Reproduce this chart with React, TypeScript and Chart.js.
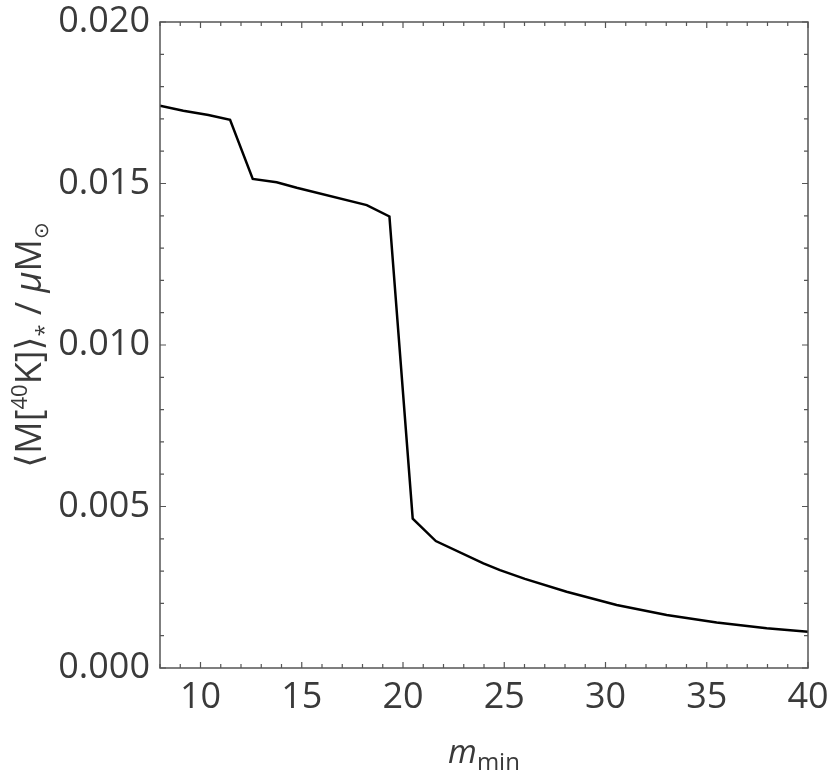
import React, { useEffect, useRef } from "react";
import { Chart, registerables } from "chart.js";

Chart.register(...registerables);

// m_min values (x)
const mMin = [8.0, 9.15, 10.39, 11.46, 12.58, 13.76, 14.75, 18.21, 19.33, 20.48, 21.62, 23.97, 24.79, 26.02, 28.08, 30.55, 33.02, 35.49, 37.96, 40.0];
// <M[40K]>_* / micro solar masses
const massK40 = [0.01741, 0.01725, 0.01712, 0.01697, 0.01514, 0.01504, 0.01487, 0.01433, 0.01398, 0.00462, 0.00393, 0.00324, 0.00303, 0.00276, 0.00236, 0.00195, 0.00164, 0.00141, 0.00123, 0.00112];

const xTickLabels = [10, 15, 20, 25, 30, 35, 40];
const yTickLabels = [0, 0.005, 0.01, 0.015, 0.02];
const xMinorTicks = Array.from({ length: 33 }, (_, i) => 8 + i);
const yMinorTicks = Array.from({ length: 21 }, (_, i) => i * 0.001);

const FONT = "'Open Sans', 'DejaVu Sans', sans-serif";
const TEXT = "#3a3a3a";
const FRAME = "#555555";

type Seg = { t: string; size: number; dy: number; italic?: boolean };

function drawSegs(ctx: CanvasRenderingContext2D, segs: Seg[], cx: number) {
  let total = 0;
  const widths = segs.map((s) => {
    ctx.font = `${s.italic ? "italic " : ""}${s.size}px ${FONT}`;
    const w = ctx.measureText(s.t).width;
    total += w;
    return w;
  });
  let x = cx - total / 2;
  segs.forEach((s, i) => {
    ctx.font = `${s.italic ? "italic " : ""}${s.size}px ${FONT}`;
    ctx.fillText(s.t, x, s.dy);
    x += widths[i];
  });
}

const framePlugin = {
  id: "framePlugin",
  afterDraw(chart: any) {
    const { ctx, chartArea: a, scales } = chart;
    const xs = scales.x;
    const ys = scales.y;
    ctx.save();
    ctx.strokeStyle = FRAME;
    ctx.lineWidth = 1.5;
    ctx.strokeRect(a.left, a.top, a.right - a.left, a.bottom - a.top);
    ctx.lineWidth = 1.2;
    ctx.beginPath();
    xMinorTicks.forEach((v) => {
      const px = xs.getPixelForValue(v);
      const len = v % 5 === 0 ? 6 : 4;
      ctx.moveTo(px, a.bottom);
      ctx.lineTo(px, a.bottom - len);
      ctx.moveTo(px, a.top);
      ctx.lineTo(px, a.top + len);
    });
    yMinorTicks.forEach((v, i) => {
      const py = ys.getPixelForValue(v);
      const len = i % 5 === 0 ? 6 : 4;
      ctx.moveTo(a.left, py);
      ctx.lineTo(a.left + len, py);
      ctx.moveTo(a.right, py);
      ctx.lineTo(a.right - len, py);
    });
    ctx.stroke();

    // axis titles
    ctx.fillStyle = TEXT;
    ctx.textBaseline = "alphabetic";
    ctx.textAlign = "left";
    // x title
    ctx.save();
    ctx.translate(0, 763);
    drawSegs(
      ctx,
      [
        { t: "m", size: 33, dy: 0, italic: true },
        { t: "min", size: 24, dy: 7 },
      ],
      (a.left + a.right) / 2
    );
    ctx.restore();
    // y title
    ctx.save();
    ctx.translate(41, (a.top + a.bottom) / 2);
    ctx.rotate(-Math.PI / 2);
    drawSegs(
      ctx,
      [
        { t: "\u27E8M[", size: 36, dy: 0 },
        { t: "40", size: 22, dy: -14 },
        { t: "K]\u27E9", size: 36, dy: 0 },
        { t: "*", size: 22, dy: 10 },
        { t: " / ", size: 36, dy: 0 },
        { t: "\u03BC", size: 36, dy: 0, italic: true },
        { t: "M", size: 36, dy: 0 },
        { t: "\u2299", size: 20, dy: 7 },
      ],
      0
    );
    ctx.restore();
    ctx.restore();
  },
};

export default function App() {
  const ref = useRef<HTMLCanvasElement | null>(null);
  useEffect(() => {
    document.body.style.margin = "0";
    if (!ref.current) return;
    const chart = new Chart(ref.current, {
      type: "line",
      data: {
        datasets: [
          {
            data: mMin.map((x, i) => ({ x, y: massK40[i] })),
            borderColor: "#000000",
            borderWidth: 2.5,
            pointRadius: 0,
            tension: 0,
            fill: false,
          },
        ],
      },
      options: {
        animation: false,
        responsive: false,
        devicePixelRatio: 1,
        layout: { padding: { top: 22, right: 22, left: 0, bottom: 0 } },
        plugins: { legend: { display: false }, tooltip: { enabled: false } },
        scales: {
          x: {
            type: "linear",
            min: 8,
            max: 40,
            afterBuildTicks: (s: any) => {
              s.ticks = xTickLabels.map((v) => ({ value: v }));
            },
            afterFit: (s: any) => {
              s.height = 106;
              s.paddingLeft = 0;
              s.paddingRight = 0;
            },
            grid: { display: false, drawTicks: false },
            border: { display: false },
            ticks: {
              autoSkip: false,
              maxRotation: 0,
              padding: 8,
              color: TEXT,
              font: { family: FONT, size: 36 },
              callback: (v: any) => String(v),
            },
          },
          y: {
            type: "linear",
            min: 0,
            max: 0.02,
            afterBuildTicks: (s: any) => {
              s.ticks = yTickLabels.map((v) => ({ value: v }));
            },
            afterFit: (s: any) => {
              s.width = 160;
              s.paddingTop = 0;
              s.paddingBottom = 0;
            },
            grid: { display: false, drawTicks: false },
            border: { display: false },
            ticks: {
              autoSkip: false,
              padding: 10,
              color: TEXT,
              font: { family: FONT, size: 36 },
              callback: (v: any) => Number(v).toFixed(3),
            },
          },
        },
      },
      plugins: [framePlugin],
    });
    return () => chart.destroy();
  }, []);
  return (
    <div style={{ width: 830, height: 774, background: "#ffffff" }}>
      <canvas ref={ref} width={830} height={774} style={{ display: "block" }} />
    </div>
  );
}
